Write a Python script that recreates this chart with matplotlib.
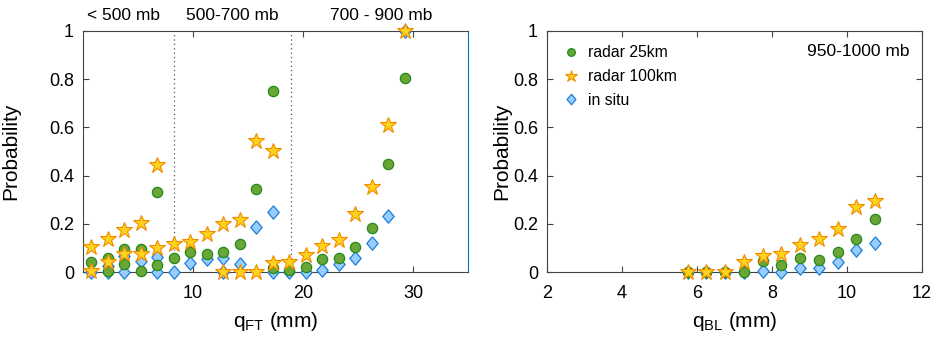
import matplotlib
matplotlib.use('Agg')
import matplotlib.pyplot as plt
from matplotlib.lines import Line2D

plt.rcParams['font.family'] = ['Liberation Sans', 'DejaVu Sans']
plt.rcParams['mathtext.fontset'] = 'custom'
plt.rcParams['mathtext.rm'] = 'Liberation Sans'
plt.rcParams['mathtext.it'] = 'Liberation Sans:italic'

#### free troposphere humidity bins (left) ####

ft_star_x = [0.75, 0.75, 2.25, 2.25, 3.75, 3.75, 5.25, 5.25, 6.75, 6.75, 8.25, 9.75, 11.25,
             12.75, 12.75, 14.25, 14.25, 15.75, 15.75, 17.25, 17.25, 18.75, 20.25, 21.75,
             23.25, 24.75, 26.25, 27.75, 29.25]
ft_star_p = [0.104, 0.004, 0.135, 0.041, 0.176, 0.076, 0.205, 0.076, 0.446, 0.101, 0.117, 0.126, 0.159,
             0.199, 0.0, 0.216, 0.0, 0.545, 0.0, 0.503, 0.036, 0.041, 0.072, 0.110,
             0.134, 0.242, 0.351, 0.610, 1.0]

ft_circ_x = [0.75, 2.25, 2.25, 3.75, 3.75, 5.25, 5.25, 6.75, 6.75, 8.25, 9.75, 11.25, 12.75,
             14.25, 15.75, 17.25, 17.25, 18.75, 20.25, 21.75, 23.25, 24.75, 26.25, 27.75, 29.25]
ft_circ_p = [0.041, 0.060, 0.004, 0.094, 0.032, 0.094, 0.004, 0.332, 0.029, 0.058, 0.084, 0.075, 0.082,
             0.115, 0.344, 0.751, 0.016, 0.010, 0.022, 0.052, 0.058, 0.103, 0.181, 0.447, 0.804]

ft_diam_x = [0.75, 2.25, 2.25, 3.75, 3.75, 5.25, 6.75, 6.75, 8.25, 9.75, 11.25, 12.75, 12.75,
             14.25, 15.75, 17.25, 17.25, 18.75, 20.25, 21.75, 23.25, 24.75, 26.25, 27.75, 29.25]
ft_diam_p = [0.0, 0.025, 0.0, 0.065, 0.0, 0.047, 0.064, 0.0, 0.0, 0.039, 0.052, 0.059, 0.0,
             0.034, 0.185, 0.250, 0.0, 0.0, 0.0, 0.009, 0.032, 0.057, 0.122, 0.234, 1.0]

layer_edges = [8.3, 18.9]
layer_names = ['< 500 mb', '500-700 mb', '700 - 900 mb']
layer_label_x = [3.65, 13.6, 27.1]

#### boundary layer humidity bins (right) ####

bl_x = [5.75, 6.25, 6.75, 7.25, 7.75, 8.25, 8.75, 9.25, 9.75, 10.25, 10.75]
bl_star_p = [0.0, 0.0, 0.0, 0.041, 0.066, 0.075, 0.114, 0.136, 0.178, 0.271, 0.295]
bl_circ_p = [0.0, 0.0, 0.0, 0.002, 0.045, 0.028, 0.057, 0.051, 0.081, 0.136, 0.220]
bl_diam_p = [0.0, 0.0, 0.0, 0.0, 0.004, 0.0, 0.018, 0.018, 0.042, 0.091, 0.119]

series_names = ['radar 25km', 'radar 100km', 'in situ']

# marker styles
diamond = [(0, 1), (0.85, 0), (0, -1), (-0.85, 0), (0, 1)]
circ_style = dict(marker='o', ms=7.4, mfc='#6aa636', mec='#22891c', mew=0.9, ls='none', clip_on=False, zorder=4)
star_style = dict(marker='*', ms=12, mfc='#ffd21c', mec='#f08a00', mew=0.8, ls='none', clip_on=False, zorder=5)
diam_style = dict(marker=diamond, ms=9.6, mfc='#99ccff', mec='#1a7fd6', mew=0.9, ls='none', clip_on=False, zorder=3)

axcol = '#444444'

fig = plt.figure(figsize=(9.34, 3.39), dpi=100)
ax1 = fig.add_axes([0.0889, 0.1976, 0.4122, 0.711])
ax2 = fig.add_axes([0.5857, 0.1976, 0.4015, 0.711])


def style_axes(ax):
    for s in ax.spines.values():
        s.set_color(axcol)
        s.set_linewidth(0.8)
    ax.tick_params(direction='in', length=4, width=0.8, color=axcol,
                   labelsize=13, labelcolor='black', top=True, right=True)
    ax.tick_params(axis='x', pad=9)
    ax.tick_params(axis='y', pad=6.5)
    ax.set_ylim(0, 1)
    ax.set_yticks([0, 0.2, 0.4, 0.6, 0.8, 1])
    ax.set_yticklabels(['0', '0.2', '0.4', '0.6', '0.8', '1'])
    ax.set_ylabel('Probability', fontsize=15)


# left panel
style_axes(ax1)
ax1.tick_params(right=False)
ax1.spines['right'].set_color('#0072BD')
ax1.set_xlim(0, 35)
ax1.set_xticks([10, 20, 30])
ax1.set_xlabel(r'q$_{\rm FT}$ (mm)', fontsize=15, labelpad=6)
ax1.yaxis.set_label_coords(-0.164, 0.5)

for e in layer_edges:
    ax1.axvline(e, color='#555555', ls=(0, (1, 2.5)), lw=0.9, zorder=1)
for name, lx in zip(layer_names, layer_label_x):
    ax1.text(lx, 1.066, name, ha='center', va='center', fontsize=12.5, clip_on=False)

ax1.plot(ft_diam_x, ft_diam_p, **diam_style)
ax1.plot(ft_circ_x, ft_circ_p, **circ_style)
ax1.plot(ft_star_x, ft_star_p, **star_style)

# right panel
style_axes(ax2)
ax2.set_xlim(2, 12)
ax2.set_xticks([2, 4, 6, 8, 10, 12])
ax2.set_xlabel(r'q$_{\rm BL}$ (mm)', fontsize=15, labelpad=6)
ax2.yaxis.set_label_coords(-0.095, 0.5)

ax2.plot(bl_x, bl_diam_p, **diam_style)
ax2.plot(bl_x, bl_circ_p, **circ_style)
ax2.plot(bl_x, bl_star_p, **star_style)

ax2.text(11.66, 0.913, '950-1000 mb', ha='right', va='center', fontsize=12.5)

handles = [
    Line2D([], [], **dict(circ_style, ms=5.5)),
    Line2D([], [], **dict(star_style, ms=9)),
    Line2D([], [], **dict(diam_style, ms=7.5)),
]
ax2.legend(handles, series_names, loc='upper left', bbox_to_anchor=(0.0, 1.005),
           frameon=False, fontsize=11.3, handlelength=1.0, handletextpad=0.6,
           labelspacing=0.55, borderaxespad=0.6)

fig.savefig('out.png', dpi=100)
